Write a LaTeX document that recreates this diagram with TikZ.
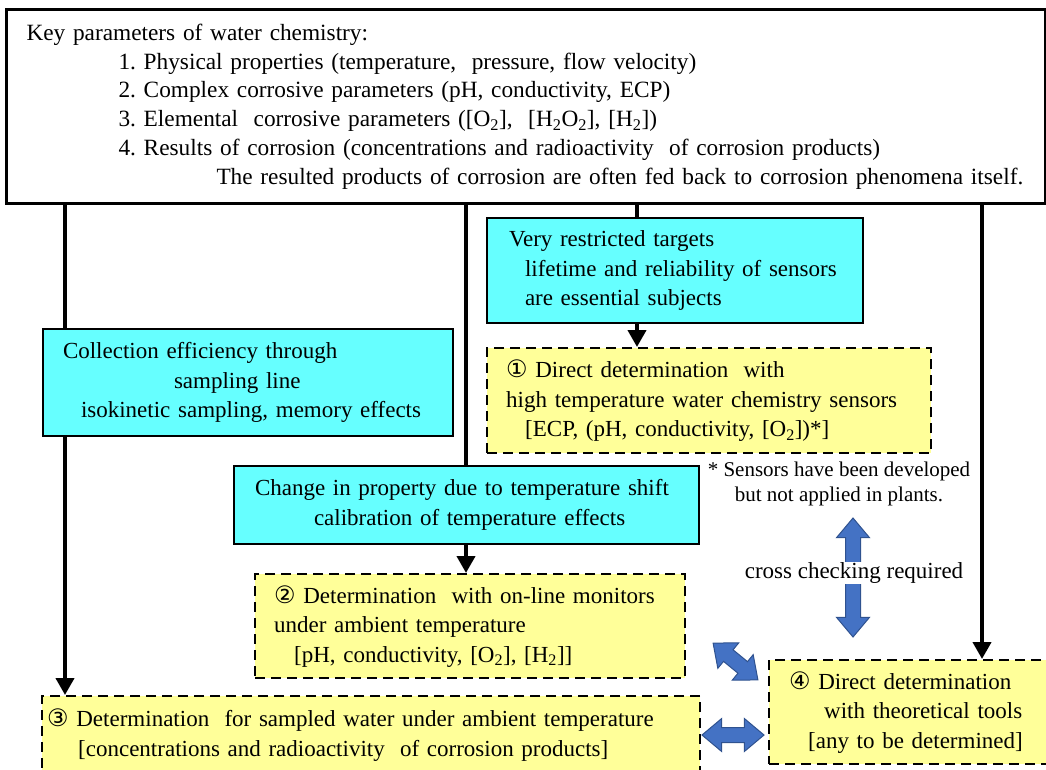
\documentclass[tikz,border=0pt]{standalone}
\usepackage{fontspec}
\setmainfont{Liberation Serif}
\newfontfamily\circfont{DejaVu Sans}
\usetikzlibrary{arrows.meta}
\usetikzlibrary{shapes.arrows}

\definecolor{boxcyan}{RGB}{102,255,255}
\definecolor{boxyellow}{RGB}{255,255,153}
\definecolor{crossblue}{RGB}{68,114,196}
\definecolor{crossedge}{RGB}{47,82,143}

\newcommand{\circnum}[1]{{\circfont\fontsize{24}{24}\selectfont #1}}
\frenchspacing

\begin{document}
\begin{tikzpicture}[x=1pt,y=-1pt,
		font=\fontsize{23}{29.5}\selectfont,
		box/.style={draw=black, line width=2pt, rectangle, anchor=north west,
			inner xsep=0pt, inner ysep=0pt, align=left},
		cyanbox/.style={box, fill=boxcyan},
		yellowbox/.style={box, fill=boxyellow, line width=2.4pt, dash pattern=on 10pt off 6pt},
		link/.style={line width=4pt},
		linkarrow/.style={link, -{Triangle[width=18pt,length=17pt]}},
		crossarrow/.style={double arrow, draw=crossedge, fill=crossblue, line width=1pt,
			inner xsep=0pt, inner ysep=7pt, double arrow head extend=9pt, double arrow tip angle=80}]
	\useasboundingbox (0,0) rectangle (1046,769);

	% Parameters:
	% The large white frame on top lists what is watched in the water
	\node[box, fill=white, line width=3pt, text width=1039pt, minimum height=194pt,
		font=\fontsize{23.3}{28.8}\selectfont] (keys) at (5,8)
		{\hspace*{20pt}Key parameters of water chemistry:\\
		\hspace*{112pt}1. Physical properties (temperature,\ \ pressure, flow velocity)\\
		\hspace*{112pt}2. Complex corrosive parameters (pH, conductivity, ECP)\\
		\hspace*{112pt}3. Elemental\ \ corrosive parameters ([O\textsubscript{2}],\ \ [H\textsubscript{2}O\textsubscript{2}], [H\textsubscript{2}])\\
		\hspace*{112pt}4. Results of corrosion (concentrations and radioactivity\ \ of corrosion products)\\
		\hspace*{210pt}The resulted products of corrosion are often fed back to corrosion phenomena itself.};

	% Problems:
	% Cyan boxes name what limits each way of measuring
	\node[cyanbox, text width=376pt, minimum height=105pt] (targets) at (486,217)
		{\hspace*{22pt}Very restricted targets\\
		\hspace*{38pt}lifetime and reliability of sensors\\
		\hspace*{38pt}are essential subjects};
	\node[cyanbox, text width=410pt, minimum height=107pt] (collection) at (42,328)
		{\hspace*{20pt}Collection efficiency through\\
		\hspace*{131pt}sampling line\\
		\hspace*{38pt}isokinetic sampling, memory effects};
	\node[cyanbox, text width=465pt, minimum height=78pt] (change) at (233,465)
		{\hspace*{21pt}Change in property due to temperature shift\\
		\hspace*{80pt}calibration of temperature effects};

	% Methods:
	% Yellow dashed boxes are the four ways of determination
	\node[yellowbox, text width=444pt, minimum height=105pt] (direct) at (486,347)
		{\hspace*{19pt}\circnum{①} Direct determination\ \ with\\
		\hspace*{19pt}high temperature water chemistry sensors\\
		\hspace*{38pt}[ECP, (pH, conductivity, [O\textsubscript{2}])*]};
	\node[yellowbox, text width=430pt, minimum height=104pt] (online) at (254,573)
		{\hspace*{19pt}\circnum{②} Determination\ \ with on-line monitors\\
		\hspace*{19pt}under ambient temperature\\
		\hspace*{39pt}[pH, conductivity, [O\textsubscript{2}], [H\textsubscript{2}]]};
	\node[yellowbox, text width=658pt, minimum height=78pt] (sampled) at (41,695)
		{\hspace*{5pt}\circnum{③} Determination\ \ for sampled water under ambient temperature\\
		\hspace*{36pt}[concentrations and radioactivity\ \ of corrosion products]};
	\node[yellowbox, text width=284pt, minimum height=104pt] (theory) at (768,659)
		{\hspace*{20pt}\circnum{④} Direct determination\\
		\hspace*{55pt}with theoretical tools\\
		\hspace*{39pt}[any to be determined]};

	\node[font=\fontsize{21}{25}\selectfont, align=center] (note) at (839,484)
		{* Sensors have been developed\\but not applied in plants.};

	% Links:
	% Thick black drops from the top frame down to the boxes
	\coordinate (c1) at (65,0);
	\coordinate (c2) at (466,0);
	\coordinate (c3) at (637,0);
	\coordinate (c4) at (982,0);
	\foreach \c/\dst in {c1/collection, c2/change, c3/targets}{%
		\draw[link] (keys.south -| \c) -- (\dst.north -| \c);
	}
	\draw[linkarrow] (keys.south -| c4) -- (theory.north -| c4);
	\draw[linkarrow] (collection.south -| c1) -- (sampled.north -| c1);
	\draw[linkarrow] (change.south -| c2) -- (online.north -| c2);
	\draw[linkarrow] (targets.south -| c3) -- (direct.north -| c3);

	% Cross checks:
	% Blue double arrows between the ways of determination
	\node[crossarrow, minimum height=119pt, rotate=90] (vcheck) at (853,577.5) {};
	\node[fill=white, inner sep=1pt, font=\fontsize{23}{28}\selectfont] (crosstext) at (854,573) {cross checking required};
	\node[crossarrow, minimum height=58pt, rotate=-39.4] (dcheck) at (735.5,661.5) {};
	\node[crossarrow, minimum height=62pt] (hcheck) at (733,735) {};
\end{tikzpicture}
\end{document}
